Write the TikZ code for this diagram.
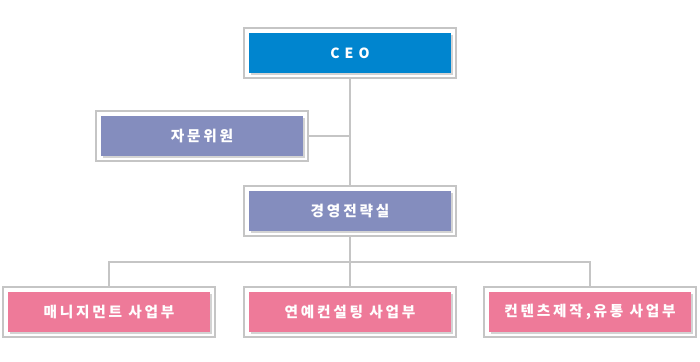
\documentclass[tikz,border=0pt]{standalone}
\usepackage{fontspec}
\newfontfamily\krfont{Noto Sans CJK KR}[LetterSpace=19]
\newfontfamily\cefont{Noto Sans CJK KR}[LetterSpace=36]
\usetikzlibrary{shadows}
\definecolor{ceoblue}{RGB}{0,133,207}
\definecolor{staffblue}{RGB}{132,141,190}
\definecolor{unitpink}{RGB}{238,122,153}
\definecolor{framegray}{RGB}{197,197,197}
\tikzset{
	frame/.style={draw=framegray, line width=1.5pt, minimum width=159pt, minimum height=37.5pt, inner sep=0pt},
	box/.style={minimum width=151.5pt, minimum height=30pt, inner sep=0pt, text=white,
		font=\fontsize{11}{13}\selectfont\krfont\bfseries,
		drop shadow={opacity=0.35, shadow xshift=1.2pt, shadow yshift=-1.2pt}},
	link/.style={draw=framegray, line width=1.5pt}
}
\begin{document}
\begin{tikzpicture}[x=0.75pt, y=-0.75pt]
	\useasboundingbox (0,0) rectangle (700,361);
	% Vorstand
	\node[frame] (ceo) at (350,53) {};
	\node[box, fill=ceoblue, font=\fontsize{10.5}{12}\selectfont\cefont\bfseries] (ceobox) at (350,53) {CEO};
	
	% Beirat
	\node[frame] (adv) at (202,136) {};
	\node[box, fill=staffblue] (advbox) at (202,136) {자문위원};
	
	% Strategie
	\node[frame] (strat) at (350,211) {};
	\node[box, fill=staffblue] (stratbox) at (350,211) {경영전략실};
	
	% Geschaeftsbereiche
	\node[frame] (mgmt) at (109,312) {};
	\node[box, fill=unitpink] (mgmtbox) at (109,312) {매니지먼트 사업부};
	\node[frame] (ent) at (350,312) {};
	\node[box, fill=unitpink] (entbox) at (350,312) {연예컨설팅 사업부};
	\node[frame] (cont) at (590,312) {};
	\node[box, fill=unitpink] (contbox) at (590,312) {컨텐츠제작,유통 사업부};
	
	% Verbindungen
	\coordinate (split) at (350,262);
	\draw[link] (ceo.south) -- (strat.north);
	\draw[link] (adv.east) -- (adv.east -| ceo.south);
	\draw[link] (strat.south) -- (ent.north);
	\draw[link] (mgmt.north) |- (split) -| (cont.north);
\end{tikzpicture}
\end{document}
